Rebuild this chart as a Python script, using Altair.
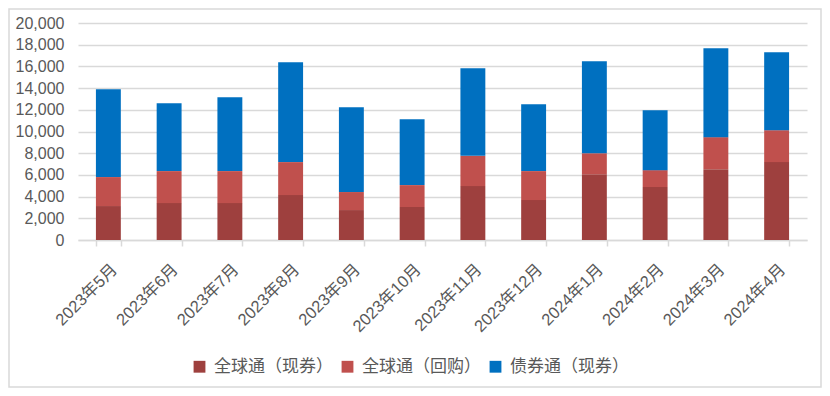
import altair as alt
import pandas as pd

months = ["2023年5月", "2023年6月", "2023年7月", "2023年8月", "2023年9月", "2023年10月",
          "2023年11月", "2023年12月", "2024年1月", "2024年2月", "2024年3月", "2024年4月"]
series_names = ["全球通（现券）", "全球通（回购）", "债券通（现券）"]
gqt_spot = [3130, 3400, 3400, 4140, 2760, 3040, 4970, 3680, 6070, 4880, 6530, 7180]
gqt_repo = [2670, 2950, 2950, 3040, 1660, 2020, 2790, 2670, 1930, 1560, 2950, 2940]
bond_connect = [8100, 6250, 6810, 9200, 7820, 6070, 8070, 6170, 8470, 5520, 8190, 7180]
colors = ["#9E403E", "#C0504D", "#0070C0"]

rows = []
for i, m in enumerate(months):
    for k, vals in enumerate([gqt_spot, gqt_repo, bond_connect]):
        rows.append({"month": m, "series": series_names[k], "value": vals[i], "order": k})
df = pd.DataFrame(rows)

font = "Liberation Sans, Noto Sans CJK SC"

bars = alt.Chart(df).mark_bar().encode(
    x=alt.X("month:N", sort=months, title=None,
            scale=alt.Scale(paddingInner=0.59, paddingOuter=0.295),
            axis=alt.Axis(labelAngle=-45, labelFontSize=16.5, labelColor="#595959",
                          labelFont=font, tickBand="extent", tickSize=6, tickColor="#D9D9D9",
                          tickWidth=1.5, domainColor="#D9D9D9", domainWidth=1.5,
                          labelPadding=15, grid=False)),
    y=alt.Y("value:Q", title=None, stack="zero",
            scale=alt.Scale(domain=[0, 20000], nice=False),
            axis=alt.Axis(values=list(range(0, 20001, 2000)), format=",d", labelFontSize=16,
                          labelColor="#595959", labelFont=font, ticks=False, domain=False,
                          labelPadding=14, gridColor="#D9D9D9", gridWidth=1.5)),
    color=alt.Color("series:N", sort=series_names,
                    scale=alt.Scale(domain=series_names, range=colors),
                    legend=alt.Legend(title=None, orient="none", direction="horizontal",
                                      legendX=113, legendY=335, symbolType="square",
                                      symbolSize=140, symbolStrokeWidth=0,
                                      labelFontSize=17, labelColor="#595959",
                                      labelFont="Noto Sans CJK SC", labelOffset=6,
                                      columnPadding=6)),
    order=alt.Order("order:Q", sort="ascending"),
)

border = alt.Chart(pd.DataFrame({"a": [0]})).mark_rect(
    fill=None, stroke="#D9D9D9", strokeWidth=1.5
).encode(
    x=alt.value(-69), x2=alt.value(743), y=alt.value(-14), y2=alt.value(364)
)

chart = alt.layer(border, bars).properties(
    width=729, height=217,
    autosize=alt.AutoSizeParams(type="none"),
    padding={"left": 70, "top": 15, "right": 15, "bottom": 148},
).configure_view(stroke=None)

chart.save("out.html", embed_options={"renderer": "svg", "actions": False})
